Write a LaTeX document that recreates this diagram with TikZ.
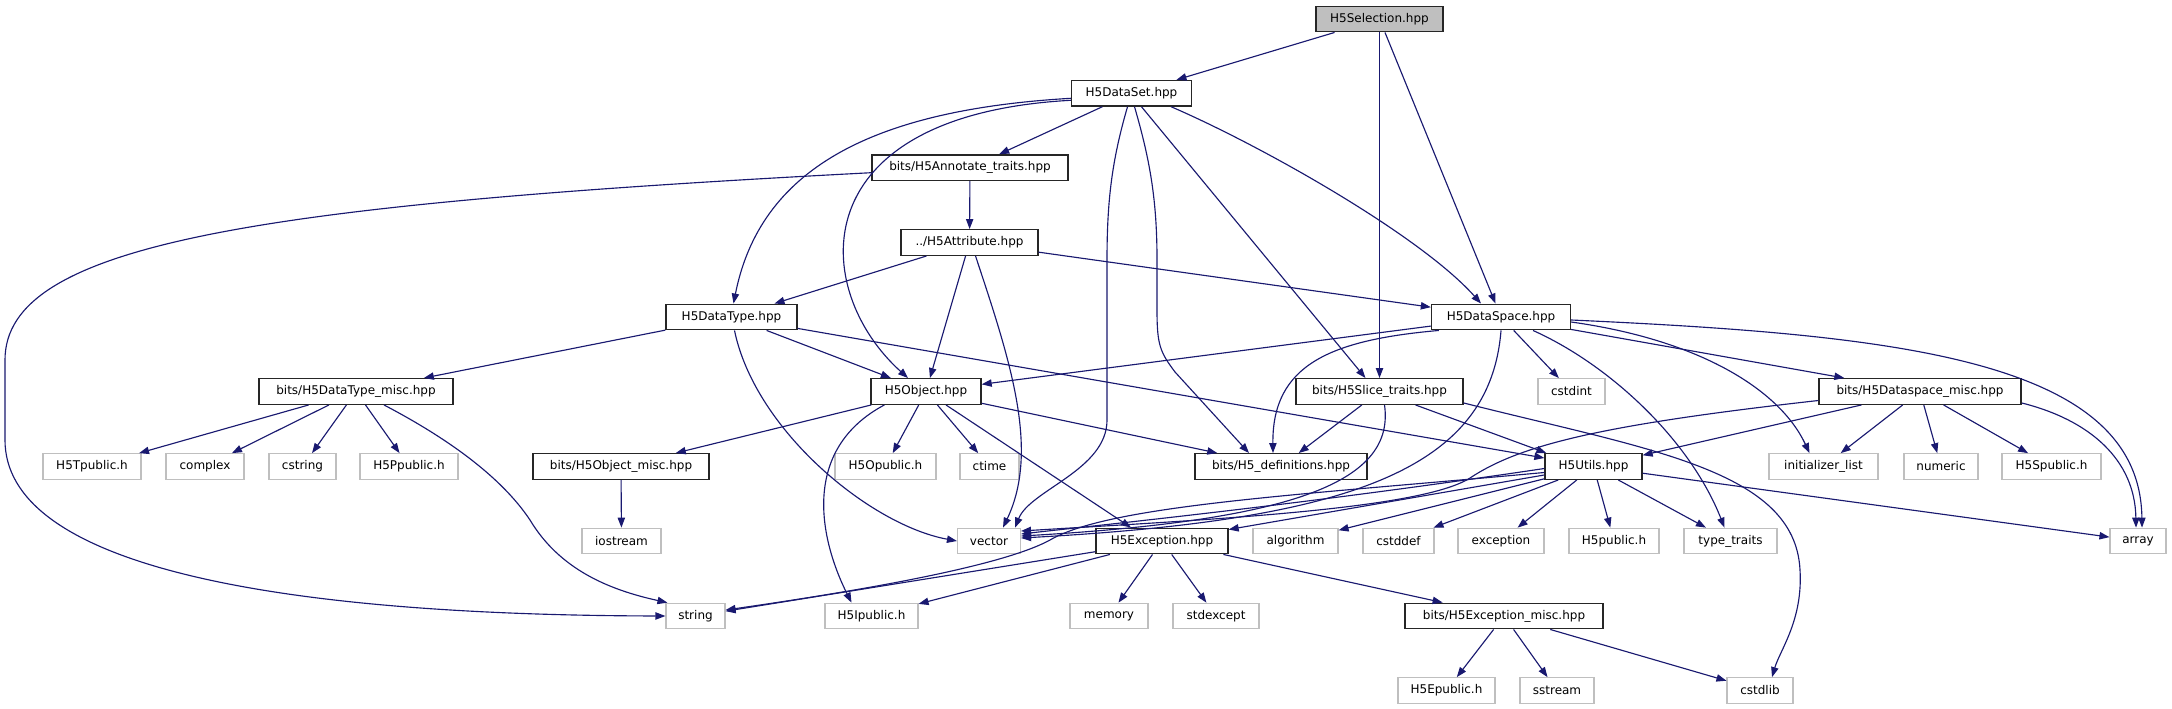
\documentclass[tikz,border=0pt]{standalone}
\usepackage{fontspec}
\setmainfont{DejaVu Sans}
\usetikzlibrary{arrows.meta,calc}
\definecolor{edgec}{HTML}{191970}
\definecolor{grayb}{HTML}{BFBFBF}
\begin{document}
\begin{tikzpicture}[x=0.75pt,y=-0.75pt,
 box/.style={rectangle, inner sep=0pt, minimum height=19.2pt, font=\fontsize{9}{11}\selectfont, text=black},
 int/.style={box, draw=black!85, line width=1pt, fill=white},
 ext/.style={box, draw=grayb, line width=0.85pt, fill=white},
 cur/.style={box, draw=black!85, line width=1pt, fill=grayb},
 edg/.style={draw=edgec, line width=0.85pt, -{Triangle[length=7.5pt,width=5.5pt]}}]
\fill[white] (0,0) rectangle (2172,709);
\useasboundingbox (0,0) rectangle (2172,709);
% nodes
\node[cur, minimum width=95.25pt] (Sel) at (1379.5,19) {H5Selection.hpp};
\node[int, minimum width=90pt] (DataSet) at (1131.5,93.3) {H5DataSet.hpp};
\node[int, minimum width=147pt] (Annot) at (970,167.7) {bits/H5Annotate\_traits.hpp};
\node[int, minimum width=102.75pt] (Attr) at (969.5,242.5) {../H5Attribute.hpp};
\node[int, minimum width=98.25pt] (DataType) at (731.5,317) {H5DataType.hpp};
\node[int, minimum width=104.25pt] (DataSpace) at (1501,317) {H5DataSpace.hpp};
\node[int, minimum width=145.5pt] (DTmisc) at (356,391.5) {bits/H5DataType\_misc.hpp};
\node[int, minimum width=82.5pt] (Object) at (926,391.5) {H5Object.hpp};
\node[int, minimum width=125.25pt] (Slice) at (1379.5,391.5) {bits/H5Slice\_traits.hpp};
\node[ext, minimum width=50.25pt] (cstdint) at (1571.5,391.5) {cstdint};
\node[int, minimum width=151.5pt] (DSmisc) at (1920,391.5) {bits/H5Dataspace\_misc.hpp};
\node[ext, minimum width=73.5pt] (H5Tpublic) at (92,466.5) {H5Tpublic.h};
\node[ext, minimum width=58.5pt] (complex) at (205,466.5) {complex};
\node[ext, minimum width=50.25pt] (cstring) at (302.5,466.5) {cstring};
\node[ext, minimum width=73.5pt] (H5Ppublic) at (409,466.5) {H5Ppublic.h};
\node[int, minimum width=132pt] (Objmisc) at (621,466.5) {bits/H5Object\_misc.hpp};
\node[ext, minimum width=75.75pt] (H5Opublic) at (885.5,466.5) {H5Opublic.h};
\node[ext, minimum width=44.25pt] (ctime) at (989.5,466.5) {ctime};
\node[int, minimum width=129pt] (H5def) at (1281,466.5) {bits/H5\_definitions.hpp};
\node[int, minimum width=72.75pt] (Utils) at (1593.5,466.5) {H5Utils.hpp};
\node[ext, minimum width=81.75pt] (initlist) at (1823.5,466.5) {initializer\_list};
\node[ext, minimum width=55.5pt] (numeric) at (1941,466.5) {numeric};
\node[ext, minimum width=74.25pt] (H5Spublic) at (2051.5,466.5) {H5Spublic.h};
\node[ext, minimum width=59.25pt] (iostream) at (621.5,541) {iostream};
\node[ext, minimum width=47.25pt] (vector) at (989,541) {vector};
\node[int, minimum width=99pt] (Exception) at (1162,541) {H5Exception.hpp};
\node[ext, minimum width=63.75pt] (algorithm) at (1295.5,541) {algorithm};
\node[ext, minimum width=53.25pt] (cstddef) at (1398.5,541) {cstddef};
\node[ext, minimum width=64.5pt] (exception) at (1501,541) {exception};
\node[ext, minimum width=67.5pt] (H5public) at (1614,541) {H5public.h};
\node[ext, minimum width=69.75pt] (typetraits) at (1730.5,541) {type\_traits};
\node[ext, minimum width=42pt] (array) at (2138,541) {array};
\node[ext, minimum width=44.25pt] (string) at (695.5,616) {string};
\node[ext, minimum width=69.75pt] (H5Ipublic) at (871.5,616) {H5Ipublic.h};
\node[ext, minimum width=58.5pt] (memory) at (1109,616) {memory};
\node[ext, minimum width=64.5pt] (stdexcept) at (1216,616) {stdexcept};
\node[int, minimum width=148.5pt] (EXmisc) at (1504,616) {bits/H5Exception\_misc.hpp};
\node[ext, minimum width=72.75pt] (H5Epublic) at (1446.5,690.5) {H5Epublic.h};
\node[ext, minimum width=55.5pt] (sstream) at (1557,690.5) {sstream};
\node[ext, minimum width=49.5pt] (cstdlib) at (1760,690.5) {cstdlib};
% edges
\draw[edg] (Sel) -- (DataSet);
\draw[edg] (Sel) -- (Slice);
\draw[edg] (Sel) -- (DataSpace);
\draw[edg] (DataSet) -- (Annot);
\draw[edg] ($(DataSet.west)+(0,5)$) .. controls (870,110) and (760,170) .. ($(DataType.north)+(2,0)$);
\draw[edg] ($(DataSet.west)+(0,7)$) .. controls (800,115) and (810,290) .. ($(Object.north)+(-18,0)$);
\draw[edg] ($(DataSet.south)+(-4,0)$) .. controls (1112,160) and (1107,200) .. (1107,260) -- (1107,420) .. controls (1107,470) and (1030,490) .. ($(vector.north east)+(-6,0)$);
\draw[edg] ($(DataSet.south)+(3,0)$) .. controls (1150,160) and (1157,200) .. (1157,260) -- (1157,310) .. controls (1157,345) and (1160,352) .. (1175,372) -- ($(H5def.north)+(-32,0)$);
\draw[edg] ($(DataSet.south)+(10,0)$) -- ($(Slice.north)+(-14,0)$);
\draw[edg] ($(DataSet.south east)+(-21,0)$) .. controls (1260,145) and (1420,235) .. ($(DataSpace.north)+(-20,0)$);
\draw[edg] ($(Annot.west)+(0,5)$) .. controls (250,205) and (5,245) .. (5,360) -- (5,440) .. controls (5,560) and (250,615) .. (string.west);
\draw[edg] (Annot) -- (Attr);
\draw[edg] (Attr) -- (DataType);
\draw[edg] (Attr) -- (Object);
\draw[edg] ($(Attr.south)+(6,0)$) .. controls (1010,360) and (1040,450) .. ($(vector.north)+(14,0)$);
\draw[edg] (Attr) -- (DataSpace);
\draw[edg] (DataType) -- (DTmisc);
\draw[edg] ($(DataType.south)+(3,0)$) .. controls (755,430) and (870,525) .. (vector.west);
\draw[edg] (DataType) -- (Object);
\draw[edg] (DataType) -- (Utils);
\draw[edg] (DataSpace) -- (Object);
\draw[edg] ($(DataSpace.south west)+(8,0)$) .. controls (1330,340) and (1272,365) .. ($(H5def.north)+(-8,0)$);
\draw[edg] (DataSpace.south) .. controls (1490,470) and (1350,520) .. ($(vector.east)+(0,-3)$);
\draw[edg] (DataSpace) -- (cstdint);
\draw[edg] ($(DataSpace.south)+(32,0)$) .. controls (1610,365) and (1690,440) .. ($(typetraits.north)+(-6,0)$);
\draw[edg] (DataSpace) -- (DSmisc);
\draw[edg] ($(DataSpace.east)+(0,5)$) .. controls (1700,340) and (1780,390) .. ($(initlist.north)+(-14,0)$);
\draw[edg] ($(DataSpace.east)+(0,3)$) .. controls (1900,335) and (2140,360) .. ($(array.north)+(4,0)$);
\draw[edg] (Slice) -- (H5def);
\draw[edg] ($(Slice.south)+(36,0)$) -- ($(Utils.north west)+(2,0)$);
\draw[edg] ($(Slice.south)+(5,0)$) .. controls (1395,480) and (1300,520) .. ($(vector.east)+(0,-5)$);
\draw[edg] ($(Slice.south east)+(0,-2)$) .. controls (1650,450) and (1795,470) .. (1800,570) .. controls (1803,620) and (1780,650) .. ($(cstdlib.north)+(12,0)$);
\draw[edg] (DSmisc) -- (Utils);
\draw[edg] (DSmisc) -- (initlist);
\draw[edg] (DSmisc) -- (numeric);
\draw[edg] (DSmisc) -- (H5Spublic);
\draw[edg] ($(DSmisc.south east)+(0,-2)$) .. controls (2090,420) and (2135,460) .. ($(array.north)+(-2,0)$);
\draw[edg] ($(DSmisc.west)+(0,9)$) .. controls (1600,425) and (1520,445) .. (1470,478) .. controls (1420,510) and (1200,520) .. ($(vector.east)+(0,-10)$);
\draw[edg] ($(Utils.west)+(0,2)$) .. controls (1300,505) and (1100,525) .. ($(vector.east)+(0,-7)$);
\draw[edg] ($(Utils.west)+(0,6)$) .. controls (1300,495) and (1110,505) .. (1050,540) .. controls (1010,562) and (900,585) .. ($(string.east)+(0,-6)$);
\draw[edg] (Utils) -- (Exception);
\draw[edg] (Utils) -- (algorithm);
\draw[edg] (Utils) -- (cstddef);
\draw[edg] (Utils) -- (exception);
\draw[edg] (Utils) -- (H5public);
\draw[edg] (Utils) -- (typetraits);
\draw[edg] (Utils) -- (array);
\draw[edg] (Object) -- (Objmisc);
\draw[edg] ($(Object.south west)+(14,0)$) .. controls (800,450) and (820,540) .. ($(H5Ipublic.north)+(-20,0)$);
\draw[edg] (Object) -- (H5Opublic);
\draw[edg] (Object) -- (ctime);
\draw[edg] ($(Object.south)+(20,0)$) -- ($(Exception.north)+(-31,0)$);
\draw[edg] (Object) -- (H5def);
\draw[edg] (Objmisc) -- (iostream);
\draw[edg] (DTmisc) -- (H5Tpublic);
\draw[edg] (DTmisc) -- (complex);
\draw[edg] (DTmisc) -- (cstring);
\draw[edg] (DTmisc) -- (H5Ppublic);
\draw[edg] ($(DTmisc.south)+(28,0)$) .. controls (470,450) and (510,490) .. (530,520) .. controls (560,570) and (610,590) .. ($(string.north west)+(2,0)$);
\draw[edg] (Exception) -- (string);
\draw[edg] (Exception) -- (H5Ipublic);
\draw[edg] (Exception) -- (memory);
\draw[edg] (Exception) -- (stdexcept);
\draw[edg] (Exception) -- (EXmisc);
\draw[edg] (EXmisc) -- (H5Epublic);
\draw[edg] (EXmisc) -- (sstream);
\draw[edg] (EXmisc) -- (cstdlib);
\end{tikzpicture}
\end{document}
